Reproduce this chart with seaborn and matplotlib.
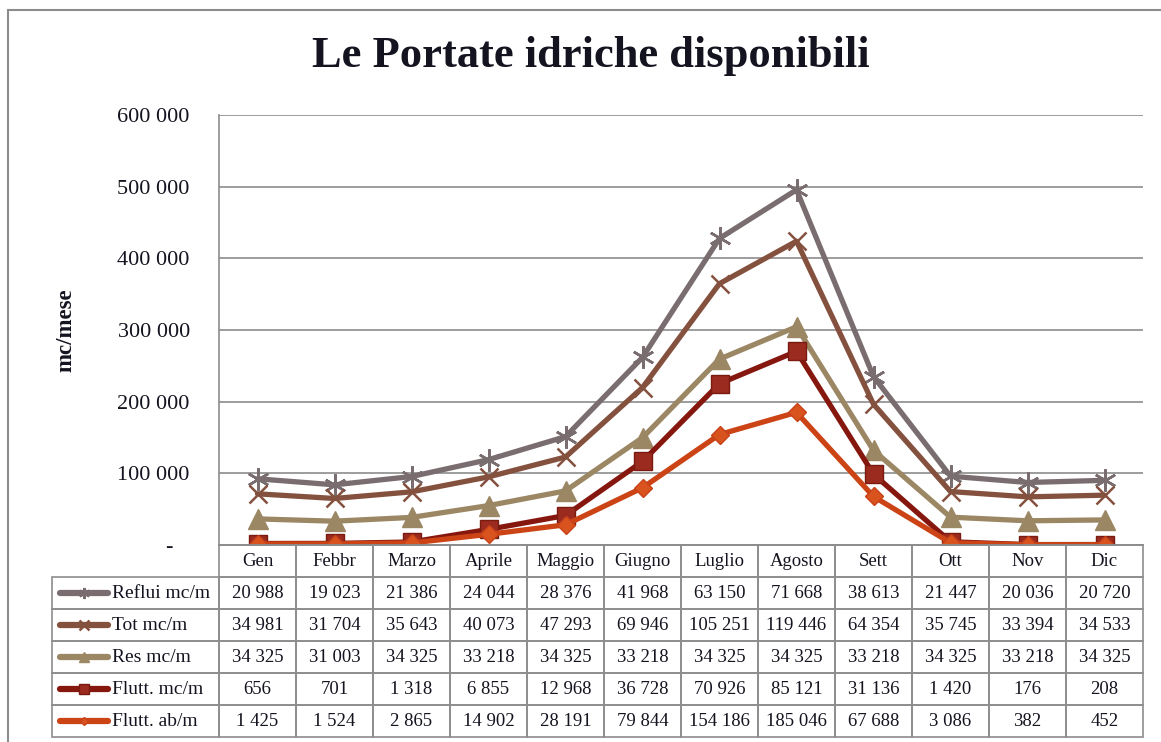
import numpy as np
import pandas as pd
import matplotlib
matplotlib.use("Agg")
import matplotlib.pyplot as plt
import seaborn as sns
from matplotlib.lines import Line2D
from matplotlib.patches import Rectangle

# --- data (monthly values, mc/mese) ---
months = ["Gen", "Febbr", "Marzo", "Aprile", "Maggio", "Giugno",
          "Luglio", "Agosto", "Sett", "Ott", "Nov", "Dic"]
reflui = [20988, 19023, 21386, 24044, 28376, 41968, 63150, 71668, 38613, 21447, 20036, 20720]
tot = [34981, 31704, 35643, 40073, 47293, 69946, 105251, 119446, 64354, 35745, 33394, 34533]
res = [34325, 31003, 34325, 33218, 34325, 33218, 34325, 34325, 33218, 34325, 33218, 34325]
flutt_mc = [656, 701, 1318, 6855, 12968, 36728, 70926, 85121, 31136, 1420, 176, 208]
flutt_ab = [1425, 1524, 2865, 14902, 28191, 79844, 154186, 185046, 67688, 3086, 382, 452]

labels = ["Reflui mc/m", "Tot mc/m", "Res mc/m", "Flutt. mc/m", "Flutt. ab/m"]
values = [reflui, tot, res, flutt_mc, flutt_ab]

# stacked lines: bottom is Flutt. ab/m, top is Reflui
stacked = np.cumsum(np.array(values[::-1]), axis=0)[::-1]

styles = [
    dict(color="#7a6d70", marker=(6, 2, 0), ms=16, mfc="#7a6d70", mec="#7a6d70", mew=1.8),
    dict(color="#85513f", marker="x", ms=13, mfc="#85513f", mec="#85513f", mew=1.8),
    dict(color="#9b8764", marker="^", ms=14, mfc="#9b8764", mec="#9b8764", mew=1),
    dict(color="#85170f", marker="s", ms=13, mfc="#9a2b1e", mec="#7a1a10", mew=1),
    dict(color="#cc4416", marker="D", ms=9, mfc="#d9531e", mec="#c8421a", mew=1),
]

W, H = 1161, 742
sns.set_theme(style="white")
plt.rcParams["font.family"] = ["Liberation Serif", "DejaVu Serif"]

fig = plt.figure(figsize=(W / 100, H / 100), dpi=100)

def fx(x):
    return x / W

def fy(y):
    return 1 - y / H

grid_col = "#8c8c8c"
txt_col = "#141420"

# outer frame
fig.add_artist(Rectangle((fx(8), -0.1), 1.2, fy(10) + 0.1, transform=fig.transFigure,
                         fill=False, edgecolor=grid_col, lw=1.5))

# --- plot area ---
ax = fig.add_axes([fx(219), fy(545), fx(1143) - fx(219), fy(115) - fy(545)])
x = np.arange(len(months))
for lab, yv, st in zip(labels, stacked, styles):
    sns.lineplot(x=x, y=yv, ax=ax, color=st["color"], lw=3.8, marker=st["marker"],
                 markersize=st["ms"], markerfacecolor=st["mfc"], markeredgecolor=st["mec"],
                 markeredgewidth=st["mew"], label=lab, legend=False)

ax.set_xlim(-0.5, 11.5)
ax.set_ylim(0, 600000)
yt = np.arange(0, 600001, 100000)
ax.set_yticks(yt)
ax.set_yticklabels(["-   "] + [f"{v:,}".replace(",", " ") for v in yt[1:]],
                   fontsize=16, color=txt_col)
ax.set_xticks([])
ax.tick_params(axis="y", length=0, pad=21)
ax.yaxis.grid(True, color=grid_col, lw=1.2)
for s in ["top", "right"]:
    ax.spines[s].set_visible(False)
ax.spines["left"].set_color(grid_col)
ax.spines["left"].set_linewidth(1.2)
ax.spines["bottom"].set_color(grid_col)
ax.spines["bottom"].set_linewidth(1.2)
ax.set_xlabel("")
ax.set_ylabel("")

fig.text(fx(66), fy(330), "mc/mese", rotation=90, ha="center", va="center",
         fontsize=16.5, fontweight="bold", color=txt_col)
fig.text(fx(591), fy(56), "Le Portate idriche disponibili", ha="center", va="center",
         fontsize=32, fontweight="bold", color=txt_col)

# --- data table ---
tax = fig.add_axes([fx(52), fy(737), fx(1143) - fx(52), fy(545) - fy(737)])
tax.axis("off")
cell_text = [[""] + months]
for v in values:
    cell_text.append([""] + [f"{n:,}".replace(",", " ") for n in v])
tbl = tax.table(cellText=cell_text, colWidths=[167] + [77] * 12, bbox=[0, 0, 1, 1],
                cellLoc="center")
tbl.auto_set_font_size(False)
tbl.set_fontsize(13.5)
for (r, c), cell in tbl.get_celld().items():
    cell.set_edgecolor(grid_col)
    cell.set_linewidth(1.2)
    cell.set_facecolor("none")
    cell.get_text().set_color(txt_col)
tbl[0, 0].visible_edges = ""

# legend keys in row-label cells
row_h = (737 - 545) / 6
for i, (lab, st) in enumerate(zip(labels, styles)):
    yc = fy(545 + row_h * (i + 1.5))
    fig.add_artist(Line2D([fx(60), fx(108)], [yc, yc], transform=fig.transFigure,
                          color=st["color"], lw=4.5, solid_capstyle="round"))
    fig.add_artist(Line2D([fx(84)], [yc], transform=fig.transFigure, lw=0,
                          marker=st["marker"], markersize=st["ms"] * 0.5,
                          markerfacecolor=st["mfc"], markeredgecolor=st["mec"],
                          markeredgewidth=st["mew"]))
    fig.text(fx(112), yc, lab, ha="left", va="center", fontsize=14, color=txt_col)

fig.savefig("out.png", dpi=100)
